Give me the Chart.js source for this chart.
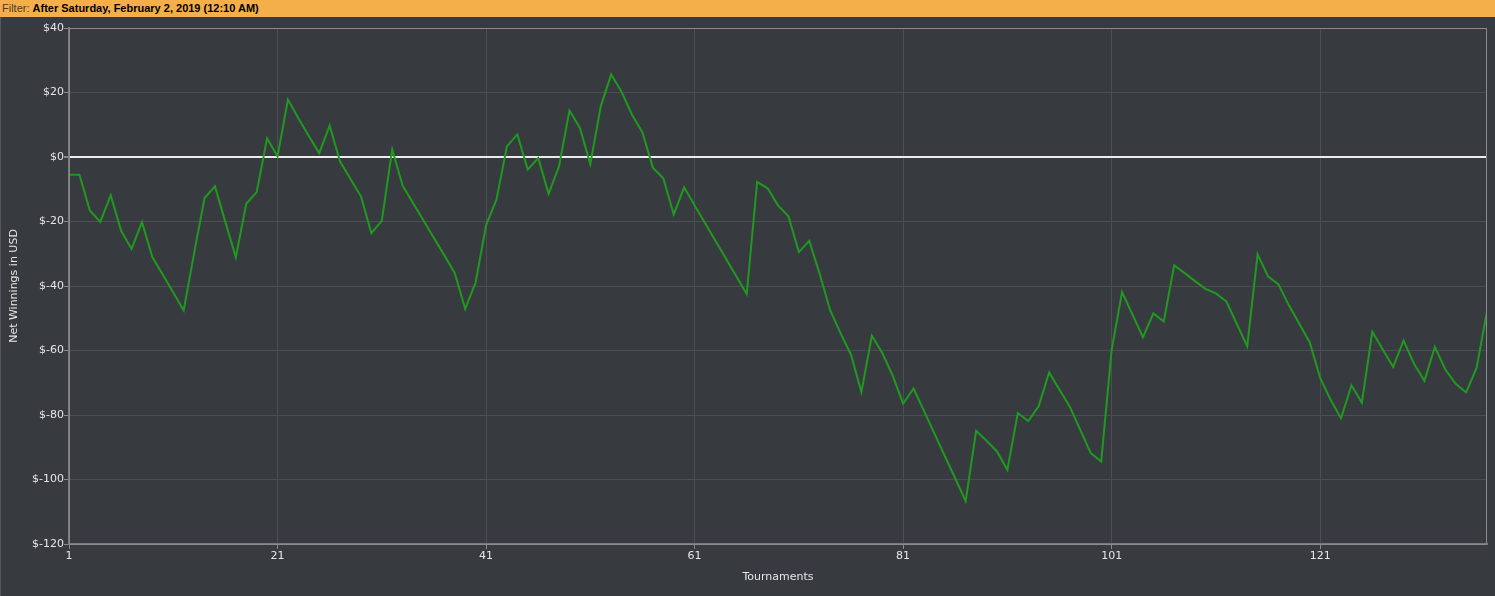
<!DOCTYPE html>
<html>
<head>
<meta charset="utf-8">
<script src="https://cdn.jsdelivr.net/npm/chart.js@4.4.1/dist/chart.umd.min.js"></script>
<style>
  html, body { margin: 0; padding: 0; background: #373b3f; overflow: hidden; }
  #filterBar {
    height: 17px; background: #f4af4a; font-family: "Liberation Sans", Arial, sans-serif;
    font-size: 11px; line-height: 17px; padding-left: 2px; white-space: nowrap; color: #000;
  }
  #filterBar span { color: #4d3b1c; }
  #chartBox { position: relative; width: 1495px; height: 579px; border-left: 1px solid #55595d; box-sizing: border-box; }
</style>
</head>
<body>
<div id="filterBar"><span>Filter:</span> <b>After Saturday, February 2, 2019 (12:10 AM)</b></div>
<div id="chartBox"><canvas id="winChart"></canvas></div>
<script>
// net winnings after each tournament (USD)
const netWinnings = [
  -5.5, -5.5, -16.6, -20.1, -11.9, -22.9, -28.5, -20.2, -31.1, -36.5,
  -42, -47.6, -29.8, -12.7, -9.1, -20.2, -31.1, -14.5, -10.9, 5.8,
  0.2, 17.8, 12, 6.5, 1.2, 9.7, -1.4, -6.8, -12.2, -23.6,
  -19.8, 2.3, -8.9, -14.3, -19.7, -25.1, -30.5, -36, -47.1, -38.9,
  -21.2, -13.2, 3.3, 7, -3.9, -0.3, -11.4, -2.9, 14.4, 9,
  -2.2, 15.7, 25.6, 20.2, 13.1, 7.6, -3.3, -6.6, -17.8, -9.4,
  -15, -20.5, -26, -31.5, -37, -42.5, -7.7, -9.7, -15, -18.4,
  -29.5, -26, -36.3, -47.5, -54.6, -61.3, -72.9, -55.4, -60.8, -67.8,
  -76.5, -71.8, -78.7, -85.7, -92.7, -99.7, -106.7, -84.9, -88, -91.3,
  -97, -79.4, -81.9, -77.3, -66.8, -72.2, -77.5, -84.7, -91.8, -94.4,
  -59.8, -41.9, -48.9, -55.9, -48.5, -51, -33.6, -36, -38.5, -40.9,
  -42.3, -44.8, -51.7, -58.7, -30.2, -37, -39.5, -46, -51.7, -57.5,
  -68.5, -75.3, -81, -70.8, -76.2, -54.2, -59.7, -65.1, -56.9, -64.1,
  -69.4, -58.9, -65.9, -70.3, -73, -65.4, -47.9
];
const tournamentTicks = [1, 21, 41, 61, 81, 101, 121];
const yMin = -120, yMax = 40, yStep = 20;

const points = netWinnings.map((v, i) => ({ x: i + 1, y: v }));

// gray frame round the plot area (chart.js only draws the axis sides)
const frame = {
  id: 'frame',
  afterDatasetsDraw(chart) {
    const a = chart.chartArea, c = chart.ctx;
    c.save();
    c.strokeStyle = '#8a8a8a';
    c.lineWidth = 1;
    c.strokeRect(Math.round(a.left) + 0.5, Math.round(a.top) + 0.5,
                 Math.round(a.right - a.left) - 1, Math.round(a.bottom - a.top));
    c.restore();
  }
};

const tickFont = { family: 'DejaVu Sans', size: 11 };

new Chart(document.getElementById('winChart'), {
  type: 'line',
  data: {
    datasets: [{
      data: points,
      borderColor: '#1f9a1f',
      borderWidth: 2,
      pointRadius: 0,
      tension: 0,
      fill: false
    }]
  },
  options: {
    responsive: true,
    maintainAspectRatio: false,
    animation: false,
    layout: { padding: { top: 11, right: 8, left: 0, bottom: 0 } },
    plugins: { legend: { display: false }, tooltip: { enabled: false } },
    scales: {
      x: {
        type: 'linear',
        min: 1,
        max: netWinnings.length,
        afterBuildTicks: s => { s.ticks = tournamentTicks.map(v => ({ value: v })); },
        afterFit: s => { s.height = 52; },
        grid: { color: '#4b4f53', tickColor: '#8a8a8a', tickLength: 5 },
        border: { color: '#7a7a7a', width: 2 },
        ticks: { color: '#e6e6e6', font: tickFont, padding: 1, maxRotation: 0 },
        title: { display: true, text: 'Tournaments', color: '#e6e6e6', font: tickFont, padding: { top: 0, bottom: 12 } }
      },
      y: {
        min: yMin,
        max: yMax,
        afterFit: s => { s.width = 68; },
        grid: {
          color: c => c.tick && c.tick.value === 0 ? '#ececec' : '#4b4f53',
          lineWidth: c => c.tick && c.tick.value === 0 ? 2 : 1,
          tickColor: '#8a8a8a',
          tickLength: 5
        },
        border: { color: '#7a7a7a', width: 2 },
        ticks: {
          stepSize: yStep,
          color: '#e6e6e6',
          font: tickFont,
          padding: 0,
          callback: v => '$' + v
        },
        title: { display: true, text: 'Net Winnings in USD', color: '#e6e6e6', font: tickFont, padding: { top: 7, bottom: 0 } }
      }
    }
  },
  plugins: [frame]
});
</script>
</body>
</html>
